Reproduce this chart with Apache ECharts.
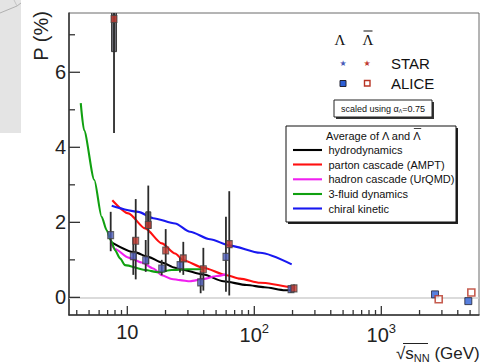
<!DOCTYPE html>
<html>
<head>
<meta charset="utf-8">
<script src="https://cdn.jsdelivr.net/npm/echarts@6/dist/echarts.min.js"></script>
<style>
  html, body { margin: 0; padding: 0; background: #fff; }
  #chart { width: 495px; height: 364px; }
</style>
</head>
<body>
<div id="chart"></div>
<script>
// axis ranges (sqrt(s_NN) in GeV, P in %)
const X_MIN = 3.475, X_MAX = 5877;
const Y_MIN = -0.47, Y_MAX = 7.58;
const yTickVals = [0, 1, 2, 3, 4, 5, 6, 7];
const xTickVals = [4, 5, 6, 7, 8, 9, 10, 20, 30, 40, 50, 60, 70, 80, 90,
  100, 200, 300, 400, 500, 600, 700, 800, 900, 1000, 2000, 3000, 4000, 5000];

// STAR Lambda (blue)
const starLamE = [7.4, 11.15, 13.96, 18.66, 26.0, 37.8, 59.8, 194.5];
const starLamP = [1.66, 1.10, 0.99, 0.77, 0.86, 0.40, 1.08, 0.22];
const starLamLo = [1.23, 0.60, 0.68, 0.59, 0.66, 0.11, 0.15, 0.12];
const starLamHi = [2.28, 1.60, 1.53, 1.00, 1.06, 0.70, 2.15, 0.32];
// STAR anti-Lambda (red)
const starBarE = [7.86, 11.65, 14.63, 20.06, 27.6, 39.7, 63.5, 205.5];
const starBarP = [7.42, 1.51, 1.93, 1.25, 1.04, 0.75, 1.42, 0.24];
const starBarLo = [4.38, 0.48, 0.88, 0.68, 0.60, 0.18, 0.05, 0.14];
const starBarHi = [9.5, 2.62, 2.98, 1.82, 1.48, 1.32, 2.83, 0.34];
// systematic boxes
const sysE = [7.86, 14.63];
const sysLo = [6.55, 1.84];
const sysHi = [8.6, 2.28];
// ALICE
const aliceLamE = [2648, 4843];
const aliceLamP = [0.08, -0.10];
const aliceBarE = [2831, 5114];
const aliceBarP = [-0.05, 0.13];

// model curves
const hydroE = [7.4, 11.5, 14.6, 18.7, 23.8, 26.0, 39.7, 57.0, 87.1, 120, 174.5, 194.5];
const hydroP = [1.48, 1.20, 1.08, 0.93, 0.79, 0.75, 0.61, 0.43, 0.33, 0.27, 0.19, 0.19];
const amptE = [7.62, 10.2, 13.8, 18.7, 23.8, 27.6, 39.7, 60.7, 77.1, 111, 209];
const amptP = [2.59, 2.24, 1.84, 1.44, 1.17, 0.99, 0.79, 0.59, 0.50, 0.39, 0.24];
const urqmdE = [7.4, 8.0, 10.2, 13.0, 16.0, 18.7, 22.4, 26.0, 31.2, 39.7, 50.6, 60.7];
const urqmdP = [1.44, 1.29, 1.06, 0.93, 0.77, 0.59, 0.49, 0.46, 0.43, 0.49, 0.57, 0.62];
const fluidE = [4.30, 4.56, 5.50, 6.28, 6.88, 7.40, 8.0, 8.77, 9.59, 13.8, 17.5, 22.4, 29.4, 39.7];
const fluidP = [5.18, 4.46, 3.13, 2.15, 1.79, 1.53, 1.26, 1.04, 0.86, 0.73, 0.67, 0.73, 0.75, 0.75];
const chiralE = [7.54, 12.2, 16.0, 23.8, 31.2, 44.8, 64.4, 111, 197];
const chiralP = [2.44, 2.28, 2.11, 1.97, 1.75, 1.55, 1.38, 1.19, 0.88];

const modelNames = ['hydrodynamics', 'parton cascade (AMPT)', 'hadron cascade (UrQMD)',
  '3-fluid dynamics', 'chiral kinetic'];
const modelColors = ['#000000', '#ff1010', '#f020f0', '#10a010', '#1818f0'];
const modelE = [hydroE, amptE, urqmdE, fluidE, chiralE];
const modelP = [hydroP, amptP, urqmdP, fluidP, chiralP];

const SANS = '"Liberation Sans", Arial, sans-serif';
const SERIF = '"Liberation Serif", "Times New Roman", serif';

function textWidth(str, size, family) {
  const ctx = document.createElement('canvas').getContext('2d');
  ctx.font = size + 'px ' + family;
  return ctx.measureText(str).width;
}
const zip = (xs, ys) => xs.map((x, i) => [x, ys[i]]);

const chart = echarts.init(document.getElementById('chart'), null, { renderer: 'svg' });

// ticks drawn inward, ROOT style
const tickData = yTickVals.map(v => [X_MIN, v, v % 2 === 0 ? 11 : 6, 0])
  .concat(xTickVals.map(v => {
    const e = Math.log10(v);
    return [v, Y_MIN, Math.abs(e - Math.round(e)) < 1e-9 ? 9 : 5, 1];
  }));

function renderTick(params, api) {
  const p = api.coord([api.value(0), api.value(1)]);
  const len = api.value(2);
  const shape = api.value(3) === 0
    ? { x1: p[0], y1: p[1], x2: p[0] + len, y2: p[1] }
    : { x1: p[0], y1: p[1], x2: p[0], y2: p[1] - len };
  return { type: 'line', shape, style: { stroke: '#333', lineWidth: 1.3 } };
}

function renderErr(params, api) {
  const a = api.coord([api.value(0), api.value(1)]);
  const b = api.coord([api.value(0), api.value(2)]);
  return { type: 'line', shape: { x1: a[0], y1: a[1], x2: b[0], y2: b[1] },
    style: { stroke: '#2a2a2a', lineWidth: 1.8 } };
}

function renderSys(params, api) {
  const a = api.coord([api.value(0), api.value(1)]);
  const b = api.coord([api.value(0), api.value(2)]);
  return { type: 'rect', shape: { x: a[0] - 2.5, y: b[1], width: 5, height: a[1] - b[1] },
    style: { fill: '#6c6c74', stroke: '#3a3a3a', lineWidth: 1 } };
}

const errData = starLamE.map((e, i) => [e, starLamLo[i], starLamHi[i]])
  .concat(starBarE.map((e, i) => [e, starBarLo[i], starBarHi[i]]));
const sysData = sysE.map((e, i) => [e, sysLo[i], sysHi[i]]);

const supLabels = { 10: '{b|10}', 100: '{b|10}{p|2}', 1000: '{b|10}{p|3}' };

const series = [
  {
    type: 'line', data: [], z: 1, silent: true,
    markLine: {
      silent: true, symbol: ['none', 'none'], label: { show: false },
      lineStyle: { color: '#cfcfcf', width: 1.5, type: 'solid' },
      data: [{ yAxis: 0 }]
    }
  }
];
modelNames.forEach((name, i) => {
  series.push({
    name, type: 'line', data: zip(modelE[i], modelP[i]), showSymbol: false,
    smooth: 0.25, smoothMonotone: 'x', z: 2, silent: true,
    lineStyle: { color: modelColors[i], width: 2.1 }
  });
});
series.push(
  { type: 'custom', renderItem: renderSys, data: sysData, clip: true, z: 3,
    encode: { x: 0, y: [1, 2] } },
  { type: 'custom', renderItem: renderErr, data: errData, clip: true, z: 4,
    encode: { x: 0, y: [1, 2] } },
  { name: 'STAR Λ', type: 'scatter', data: zip(starLamE, starLamP), symbol: 'rect',
    symbolSize: [6, 7], z: 5, itemStyle: { color: '#4d5cb8', borderColor: '#444', borderWidth: 1 } },
  { name: 'STAR anti-Λ', type: 'scatter', data: zip(starBarE, starBarP), symbol: 'rect',
    symbolSize: [6, 7], z: 5, itemStyle: { color: '#c03a30', borderColor: '#444', borderWidth: 1 } },
  { name: 'ALICE Λ', type: 'scatter', data: zip(aliceLamE, aliceLamP), symbol: 'rect',
    symbolSize: 7, z: 5, itemStyle: { color: '#2d5fd6', borderColor: '#223', borderWidth: 1 } },
  { name: 'ALICE anti-Λ', type: 'scatter', data: zip(aliceBarE, aliceBarP), symbol: 'rect',
    symbolSize: 7, z: 5, itemStyle: { color: '#ffffff', borderColor: '#b83424', borderWidth: 1.6 } },
  { type: 'custom', renderItem: renderTick, data: tickData, z: 6, silent: true,
    encode: { x: 0, y: 1 } }
);

// legend pieces
const titleText = 'Average of Λ and ';
const titleX = 326;
const barLamX = titleX + textWidth(titleText, 11, SANS);
const barLamW = textWidth('Λ', 11, SANS);
const rowY = [150, 164.5, 179.3, 194, 208.5];

const graphic = [
  // grey page corner at top left
  { type: 'rect', shape: { x: 0, y: 0, width: 21, height: 133 }, style: { fill: '#e4e4e4' }, z: -1 },
  { type: 'polyline', shape: { points: [[0, 13], [17, 6], [21, 3]] }, style: { stroke: '#b0b0b0', lineWidth: 1, fill: null } },
  { type: 'polyline', shape: { points: [[14, 0], [17, 6]] }, style: { stroke: '#c4c4c4', lineWidth: 1, fill: null } },
  // axis titles
  { type: 'text', x: 41, y: 36, rotation: Math.PI / 2,
    style: { text: 'P (%)', fill: '#222', fontSize: 20, fontFamily: SANS, align: 'center', verticalAlign: 'middle' } },
  { type: 'text', x: 396, y: 353,
    style: { text: '{r|√}{s|s}{n|NN}{g| (GeV)}', fill: '#222', align: 'left', verticalAlign: 'middle',
      rich: {
        r: { fontSize: 17, fontFamily: SANS, fill: '#222' },
        s: { fontSize: 17, fontFamily: SANS, fill: '#222' },
        n: { fontSize: 11, fontFamily: SANS, fill: '#222', padding: [10, 0, 0, 0] },
        g: { fontSize: 17, fontFamily: SANS, fill: '#222' }
      } } },
  { type: 'line', shape: { x1: 403, y1: 343.5, x2: 428, y2: 343.5 }, style: { stroke: '#222', lineWidth: 1 } },
  // Lambda / anti-Lambda header
  { type: 'text', x: 340, y: 40, style: { text: 'Λ', fill: '#111', fontSize: 15, fontFamily: SERIF, align: 'center', verticalAlign: 'middle' } },
  { type: 'text', x: 368, y: 40, style: { text: 'Λ', fill: '#111', fontSize: 15, fontFamily: SERIF, align: 'center', verticalAlign: 'middle' } },
  { type: 'line', shape: { x1: 363.5, y1: 31, x2: 372.5, y2: 31 }, style: { stroke: '#111', lineWidth: 1 } },
  { type: 'text', x: 343, y: 63.5, style: { text: '★', fill: '#4a5ab8', fontSize: 8, fontFamily: 'DejaVu Sans', align: 'center', verticalAlign: 'middle' } },
  { type: 'text', x: 367, y: 63.5, style: { text: '★', fill: '#c03a30', fontSize: 8, fontFamily: 'DejaVu Sans', align: 'center', verticalAlign: 'middle' } },
  { type: 'text', x: 391, y: 63.5, style: { text: 'STAR', fill: '#111', fontSize: 15, fontFamily: SANS, verticalAlign: 'middle' } },
  { type: 'rect', shape: { x: 340, y: 80.5, width: 6, height: 6 }, style: { fill: '#2d5fd6', stroke: '#223', lineWidth: 1 } },
  { type: 'rect', shape: { x: 364.5, y: 80.5, width: 5.5, height: 5.5 }, style: { fill: '#fff', stroke: '#b83424', lineWidth: 1.4 } },
  { type: 'text', x: 391, y: 83.5, style: { text: 'ALICE', fill: '#111', fontSize: 15, fontFamily: SANS, verticalAlign: 'middle' } },
  // scaled box
  { type: 'rect', shape: { x: 336, y: 102, width: 98, height: 17 }, style: { fill: '#333' } },
  { type: 'rect', shape: { x: 334, y: 100, width: 98, height: 17 }, style: { fill: '#fff', stroke: '#222', lineWidth: 1 } },
  { type: 'text', x: 383, y: 108.5,
    style: { text: '{a|scaled using α}{s|Λ}{a|=0.75}', fill: '#111', align: 'center', verticalAlign: 'middle',
      rich: {
        a: { fontSize: 9, fontFamily: SANS, fill: '#111' },
        s: { fontSize: 5, fontFamily: SANS, fill: '#111', padding: [5, 0, 0, 0] }
      } } },
  // model legend box
  { type: 'rect', shape: { x: 288, y: 128, width: 170, height: 96 }, style: { fill: '#222' } },
  { type: 'rect', shape: { x: 286, y: 126, width: 170, height: 96 }, style: { fill: '#fff', stroke: '#111', lineWidth: 1 } },
  { type: 'text', x: titleX, y: 135.5, style: { text: titleText + 'Λ', fill: '#111', fontSize: 11, fontFamily: SANS, verticalAlign: 'middle' } },
  { type: 'line', shape: { x1: barLamX, y1: 128.5, x2: barLamX + barLamW, y2: 128.5 }, style: { stroke: '#111', lineWidth: 0.8 } }
];
modelNames.forEach((name, i) => {
  graphic.push(
    { type: 'line', shape: { x1: 293, y1: rowY[i], x2: 322, y2: rowY[i] }, style: { stroke: modelColors[i], lineWidth: 2.1 } },
    { type: 'text', x: 328.5, y: rowY[i], style: { text: name, fill: '#111', fontSize: 11, fontFamily: SANS, verticalAlign: 'middle' } }
  );
});

const option = {
  backgroundColor: '#ffffff',
  animation: false,
  grid: {
    left: 69, top: 13, right: 16, bottom: 49,
    show: true, borderColor: '#6a6a6a', borderWidth: 1,
    containLabel: false, outerBoundsMode: 'none'
  },
  xAxis: {
    type: 'log', logBase: 10, min: X_MIN, max: X_MAX,
    axisLine: { show: true, onZero: false, lineStyle: { color: '#333', width: 1.5 } },
    axisTick: { show: false },
    splitLine: { show: false },
    axisLabel: {
      margin: 7, color: '#222', fontSize: 20, fontFamily: SANS,
      showMinLabel: false, showMaxLabel: false,
      formatter: v => {
        const k = Math.round(v);
        return supLabels[k] && Math.abs(v - k) < 1e-6 * k ? supLabels[k] : '';
      },
      rich: {
        b: { fontSize: 20, fontFamily: SANS, color: '#222' },
        p: { fontSize: 13, fontFamily: SANS, color: '#222', padding: [0, 0, 13, 0] }
      }
    }
  },
  yAxis: {
    type: 'value', min: Y_MIN, max: Y_MAX,
    axisLine: { show: true, onZero: false, lineStyle: { color: '#333', width: 1.5 } },
    axisTick: { show: false },
    splitLine: { show: false },
    axisLabel: {
      margin: 3, color: '#222', fontSize: 20, fontFamily: SANS,
      formatter: v => {
        const k = Math.round(v);
        return Math.abs(v - k) < 1e-6 && k % 2 === 0 ? String(Math.abs(k)) : '';
      }
    }
  },
  graphic,
  series
};

chart.setOption(option);
window.addEventListener('resize', () => chart.resize());
</script>
</body>
</html>
